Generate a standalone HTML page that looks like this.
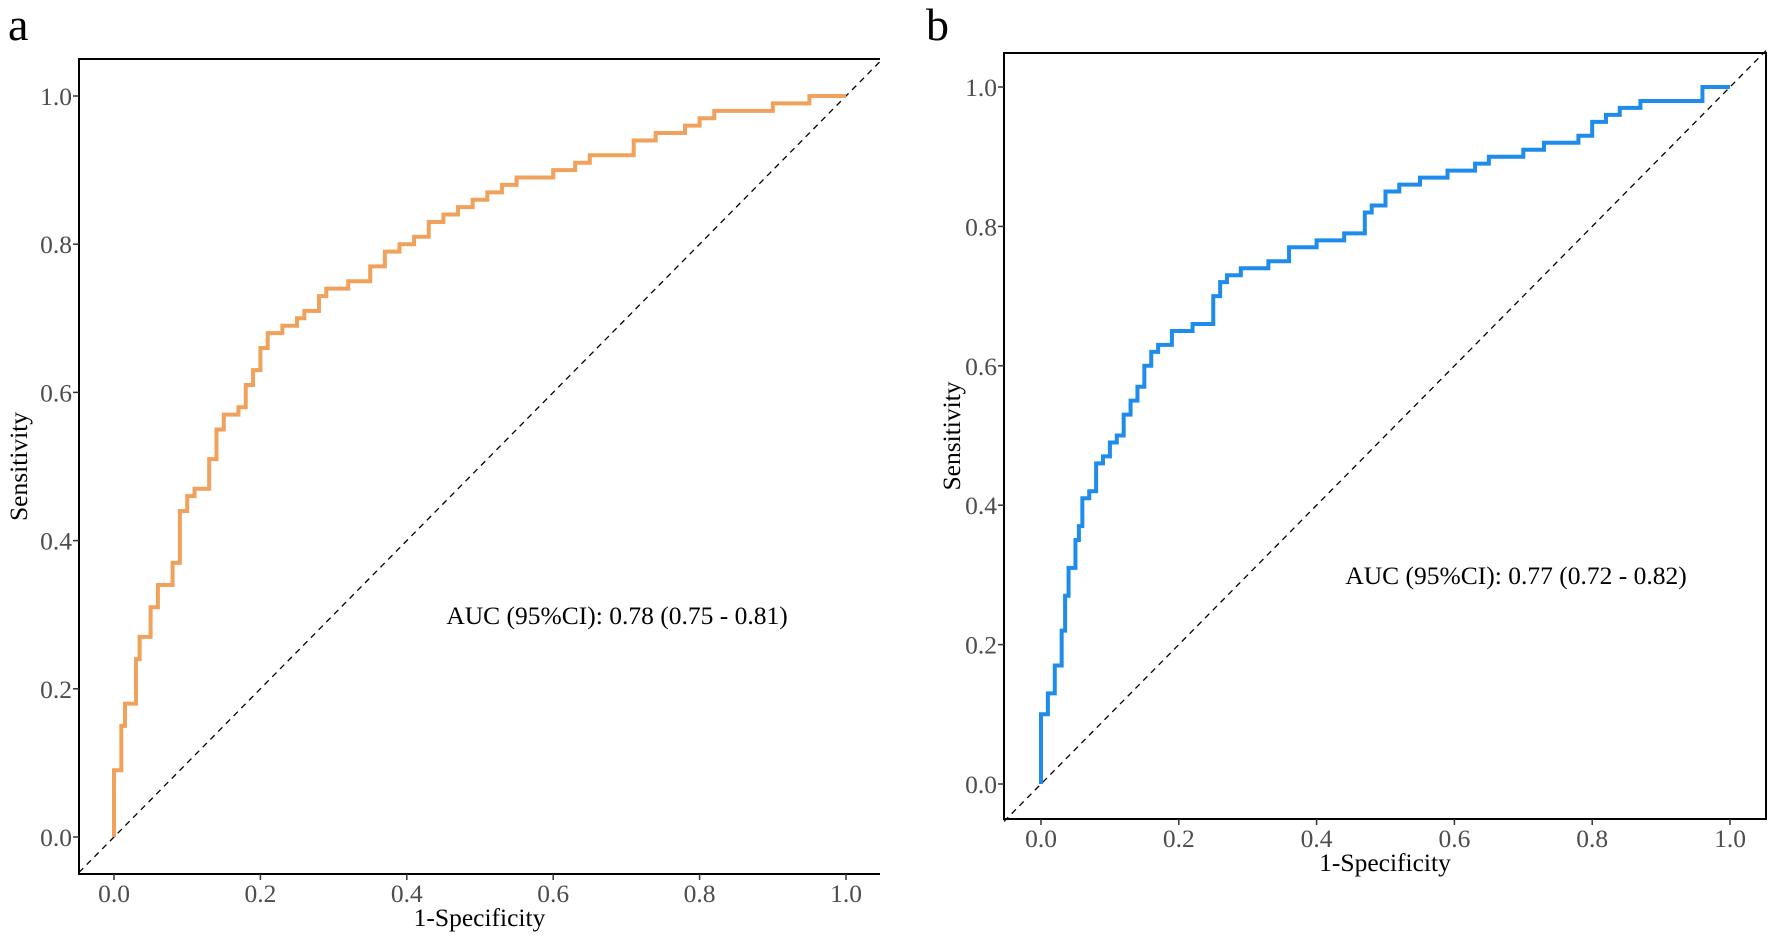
<!DOCTYPE html>
<html><head><meta charset="utf-8"><style>
html,body{margin:0;padding:0;background:#fff;width:1773px;height:940px;overflow:hidden}
svg text{font-family:"Liberation Serif",serif}
</style></head><body>
<svg id="fig" width="1773" height="940"></svg>
<script>
const ticks=[0,0.2,0.4,0.6,0.8,1.0];
const tickLabels=["0.0","0.2","0.4","0.6","0.8","1.0"];
const fprA=[0,0,0.01,0.015,0.03,0.035,0.05,0.06,0.08,0.09,0.1,0.11,0.13,0.14,0.15,0.17,0.18,0.19,0.2,0.21,0.23,0.25,0.26,0.28,0.29,0.32,0.35,0.37,0.39,0.41,0.43,0.45,0.47,0.49,0.51,0.53,0.55,0.6,0.63,0.65,0.71,0.74,0.78,0.8,0.82,0.9,0.95,1];
const tprA=[0,0.06,0.09,0.15,0.18,0.24,0.27,0.31,0.34,0.37,0.44,0.46,0.47,0.51,0.55,0.57,0.58,0.61,0.63,0.66,0.68,0.69,0.70,0.71,0.73,0.74,0.75,0.77,0.79,0.80,0.81,0.83,0.84,0.85,0.86,0.87,0.88,0.89,0.90,0.91,0.92,0.94,0.95,0.96,0.97,0.98,0.99,1];
const fprB=[0,0,0.01,0.02,0.02,0.03,0.035,0.04,0.05,0.055,0.06,0.07,0.08,0.09,0.1,0.11,0.12,0.13,0.14,0.15,0.16,0.17,0.19,0.22,0.25,0.26,0.27,0.29,0.33,0.36,0.4,0.44,0.47,0.48,0.5,0.52,0.55,0.59,0.63,0.65,0.7,0.73,0.78,0.8,0.82,0.84,0.87,0.96,0.99,1];
const tprB=[0,0.08,0.1,0.13,0.16,0.17,0.22,0.27,0.31,0.35,0.37,0.41,0.42,0.46,0.47,0.49,0.5,0.53,0.55,0.57,0.6,0.62,0.63,0.65,0.66,0.7,0.72,0.73,0.74,0.75,0.77,0.78,0.79,0.82,0.83,0.85,0.86,0.87,0.88,0.89,0.90,0.91,0.92,0.93,0.95,0.96,0.97,0.98,1.0,1];
const NS='http://www.w3.org/2000/svg';
const svg=document.getElementById('fig');
function mk(tag,attrs,parent){const e=document.createElementNS(NS,tag);for(const k in attrs)e.setAttribute(k,attrs[k]);(parent||svg).appendChild(e);return e;}
function panel(p){
  const g=mk('g',{});
  
  
  const sx=v=>p.x0+(p.x1-p.x0)*v, sy=v=>p.y0+(p.y1-p.y0)*v;
  const lab=mk('text',{x:p.labX,y:p.labY,'font-size':46,fill:'#000'},g);lab.textContent=p.id;
  
  
  const lo=(p.L-p.x0)/(p.x1-p.x0), hi=(p.R-p.x0)/(p.x1-p.x0);
  const d=mk('line',{x1:sx(lo),y1:sy(lo),x2:sx(hi),y2:sy(hi),stroke:'#000','stroke-width':1.3,'stroke-dasharray':'6,5'},g);
  
  
  let path='M'+sx(p.fpr[0])+','+sy(p.tpr[0]);
  for(let i=1;i<p.fpr.length;i++){path+=' V'+sy(p.tpr[i])+' H'+sx(p.fpr[i]);}
  const c=mk('path',{d:path,fill:'none',stroke:p.color,'stroke-width':4,'stroke-linejoin':'miter'},g);
  
  
  const ax=mk('path',{d:p.box?`M${p.L},${p.T}H${p.R}V${p.B}H${p.L}Z`:`M${p.R},${p.T}H${p.L}V${p.B}H${p.R}`,fill:'none',stroke:'#000','stroke-width':2},g);
  
  
  ticks.forEach((t,i)=>{
    mk('line',{x1:p.L-6,x2:p.L,y1:sy(t),y2:sy(t),stroke:'#333','stroke-width':1.5},g);
    mk('line',{x1:sx(t),x2:sx(t),y1:p.B,y2:p.B+6,stroke:'#333','stroke-width':1.5},g);
    const ty=mk('text',{x:p.L-7,y:sy(t)+9,'font-size':25.5,fill:'#4d4d4d','text-anchor':'end'},g);ty.textContent=tickLabels[i];
    
    
    const tx=mk('text',{x:sx(t),y:p.B+28,'font-size':25.5,fill:'#4d4d4d','text-anchor':'middle'},g);tx.textContent=tickLabels[i];
    
    
  });
  const xt=mk('text',{x:(p.L+p.R)/2,y:p.B+52,'font-size':25.5,fill:'#000','text-anchor':'middle'},g);xt.textContent='1-Specificity';
  
  
  const yt=mk('text',{x:0,y:0,'font-size':25.5,fill:'#000','text-anchor':'middle',transform:`translate(${p.ytX},${(p.T+p.B)/2}) rotate(-90)`},g);yt.textContent='Sensitivity';
  
  
  const au=mk('text',{x:p.aucX,y:p.aucY,'font-size':25.5,fill:'#000','text-anchor':'middle'},g);au.textContent=p.auc;
  
  
}
panel({id:'a',L:79,T:59,R:880,B:874,x0:114,x1:846,y0:837,y1:96,fpr:fprA,tpr:tprA,color:'#f0a15c',box:false,labX:8,labY:40,ytX:27,aucX:617,aucY:624,auc:'AUC (95%CI): 0.78 (0.75 - 0.81)'});
panel({id:'b',L:1004,T:53,R:1766,B:819,x0:1041,x1:1730,y0:784,y1:87,fpr:fprB,tpr:tprB,color:'#1f8ceb',box:true,labX:926,labY:40,ytX:960,aucX:1516,aucY:584,auc:'AUC (95%CI): 0.77 (0.72 - 0.82)'});
</script>
</body></html>
